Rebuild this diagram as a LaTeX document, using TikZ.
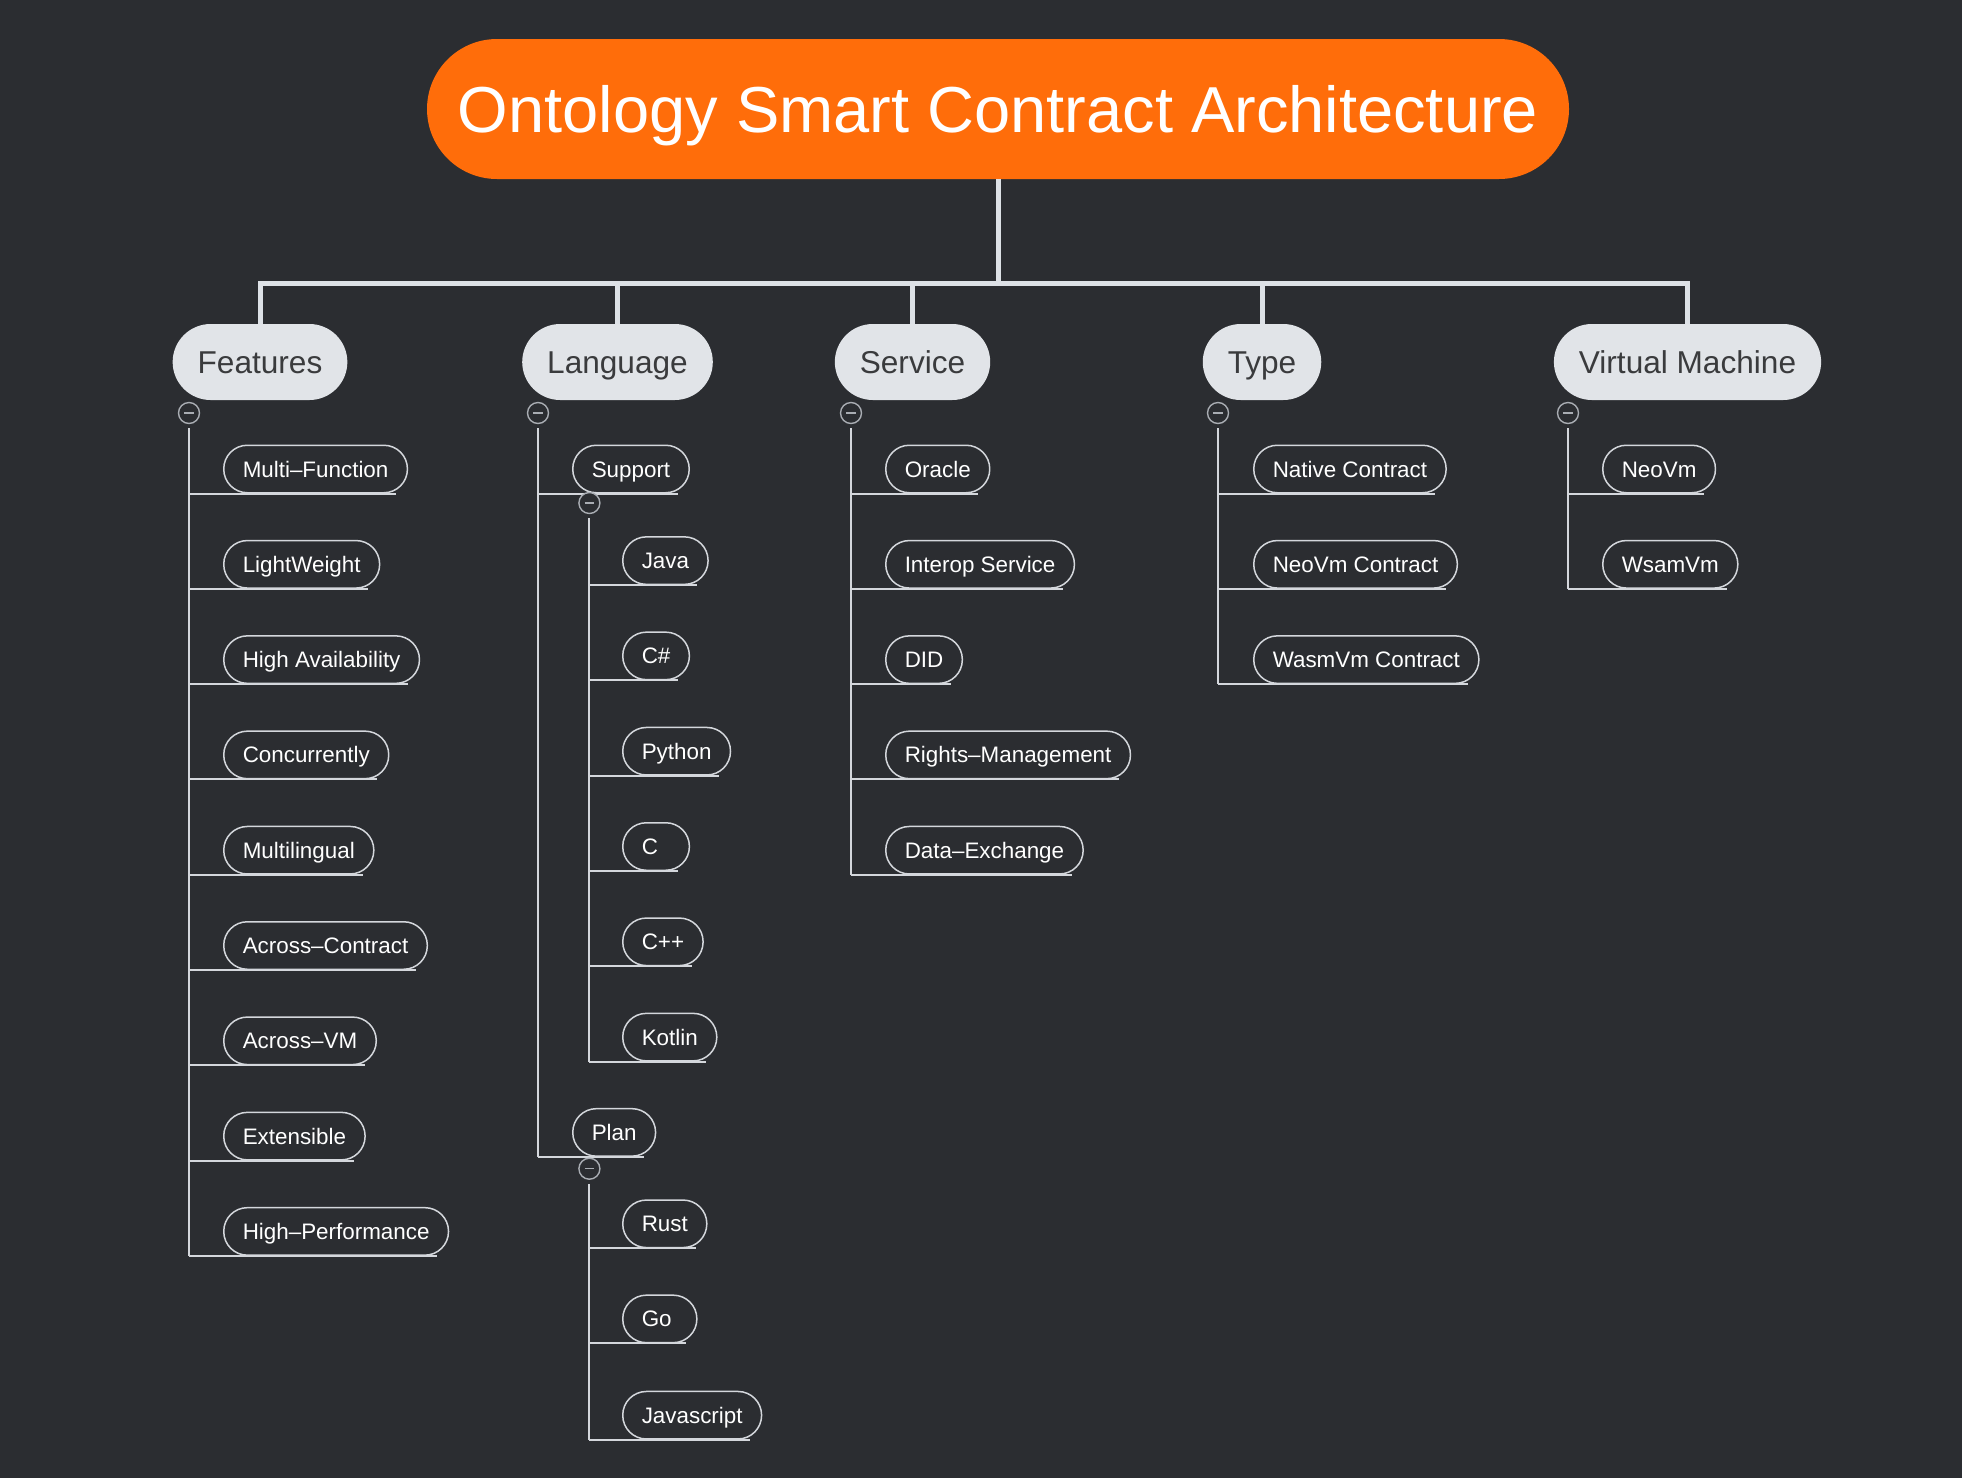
\documentclass[tikz,border=0pt]{standalone}
\usepackage{fontspec}
\setmainfont{Liberation Sans}
\definecolor{bg}{HTML}{2B2D31}
\definecolor{titleorange}{HTML}{FF6D0A}
\definecolor{catfill}{HTML}{E1E4E8}
\definecolor{cattext}{HTML}{3A3B3D}
\definecolor{trunkcol}{HTML}{DDE1E6}
\definecolor{leafline}{HTML}{D4D7DC}
\definecolor{togglecol}{HTML}{A9ADB3}
\tikzset{
  titlebox/.style={fill=titleorange, rounded corners=35pt, minimum width=571pt, minimum height=70pt,
    text=white, font=\fontsize{32.5}{36}\selectfont, inner sep=0pt, text height=23.3pt, text depth=0pt},
  catbox/.style={fill=catfill, rounded corners=19pt, minimum height=38pt, inner xsep=12.5pt, inner ysep=0pt,
    text=cattext, font=\fontsize{15.8}{18}\selectfont, text height=11.3pt, text depth=0pt},
  leafbox/.style={draw=leafline, line width=0.75pt, rounded corners=11.8pt, minimum height=23.75pt,
    inner xsep=9.5pt, inner ysep=0pt, text=white, anchor=west, font=\fontsize{11.2}{13}\selectfont,
    text height=8pt, text depth=0pt},
  trunk/.style={draw=trunkcol, line width=2.5pt},
  branch/.style={draw=leafline, line width=1pt},
  togglec/.style={circle, draw=togglecol, line width=0.7pt, fill=bg, minimum size=10.5pt, inner sep=0pt,
    path picture={\draw[togglecol, line width=0.7pt] ([xshift=-2.4pt]path picture bounding box.center) -- ([xshift=2.4pt]path picture bounding box.center);}},
}
\begin{document}
\begin{tikzpicture}[x=0.5pt,y=-0.5pt]
\fill[bg] (0,0) rectangle (1962,1478);
\useasboundingbox (0,0) rectangle (1962,1478);

% title
\node[titlebox] (title) at (998,109) {Ontology Smart Contract Architecture};

% categories
\node[catbox] (feat) at (260,362) {Features};
\node[catbox] (lang) at (617.5,362) {Language};
\node[catbox] (serv) at (912.5,362) {Service};
\node[catbox] (type) at (1262,362) {Type};
\node[catbox] (vm)   at (1687.5,362) {Virtual Machine};

\coordinate (bus) at (998,283);
\draw[trunk] (title.south) -- (bus);
\draw[trunk, line join=miter] (feat.north) |- (bus) -| (vm.north);
\draw[trunk] (lang.north) -- (lang.north |- bus);
\draw[trunk] (serv.north) -- (serv.north |- bus);
\draw[trunk] (type.north) -- (type.north |- bus);

% toggles
\node[togglec] (tfeat) at (189,413) {};
\node[togglec] (tlang) at (538,413) {};
\node[togglec] (tserv) at (851,413) {};
\node[togglec] (ttype) at (1218,413) {};
\node[togglec] (tvm)   at (1568,413) {};

% Features leaves
\node[leafbox] (f1) at (223,469.0) {Multi–Function};
\node[leafbox] (f2) at (223,564.3) {LightWeight};
\node[leafbox] (f3) at (223,659.6) {High Availability};
\node[leafbox] (f4) at (223,754.9) {Concurrently};
\node[leafbox] (f5) at (223,850.2) {Multilingual};
\node[leafbox] (f6) at (223,945.5) {Across–Contract};
\node[leafbox] (f7) at (223,1040.8) {Across–VM};
\node[leafbox] (f8) at (223,1136.1) {Extensible};
\node[leafbox] (f9) at (223,1231.4) {High–Performance};
\draw[branch] ([yshift=-2pt]tfeat.south) -- (tfeat.south |- f9.south);
\foreach \n in {f1,f2,f3,f4,f5,f6,f7,f8,f9}
  \draw[branch] (tfeat.south |- \n.south) -- ([xshift=-6pt]\n.south east);

% Language
\node[leafbox] (sup) at (572,469.0) {Support};
\node[leafbox] (plan) at (572,1132.4) {Plan};
\draw[branch] ([yshift=-2pt]tlang.south) -- (tlang.south |- plan.south);
\foreach \n in {sup,plan}
  \draw[branch] (tlang.south |- \n.south) -- ([xshift=-6pt]\n.south east);

\node[togglec] (tsup) at (589.4,503) {};
\node[leafbox] (s1) at (622,560.6) {Java};
\node[leafbox] (s2) at (622,655.9) {C\#};
\node[leafbox] (s3) at (622,751.2) {Python};
\node[leafbox] (s4) at (622,846.5) {C\phantom{\#}};
\node[leafbox] (s5) at (622,941.8) {C++};
\node[leafbox] (s6) at (622,1037.1) {Kotlin};
\draw[branch] ([yshift=-2pt]tsup.south) -- (tsup.south |- s6.south);
\foreach \n in {s1,s2,s3,s4,s5,s6}
  \draw[branch] (tsup.south |- \n.south) -- ([xshift=-6pt]\n.south east);

\node[togglec] (tplan) at (589.4,1168.7) {};
\node[leafbox] (p1) at (622,1223.8) {Rust};
\node[leafbox] (p2) at (622,1318.9) {Go\phantom{.}};
\node[leafbox] (p3) at (622,1415.2) {Javascript};
\draw[branch] ([yshift=-2pt]tplan.south) -- (tplan.south |- p3.south);
\foreach \n in {p1,p2,p3}
  \draw[branch] (tplan.south |- \n.south) -- ([xshift=-6pt]\n.south east);

% Service
\node[leafbox] (v1) at (885,469.0) {Oracle};
\node[leafbox] (v2) at (885,564.3) {Interop Service};
\node[leafbox] (v3) at (885,659.6) {DID};
\node[leafbox] (v4) at (885,754.9) {Rights–Management};
\node[leafbox] (v5) at (885,850.2) {Data–Exchange};
\draw[branch] ([yshift=-2pt]tserv.south) -- (tserv.south |- v5.south);
\foreach \n in {v1,v2,v3,v4,v5}
  \draw[branch] (tserv.south |- \n.south) -- ([xshift=-6pt]\n.south east);

% Type
\node[leafbox] (y1) at (1253,469.0) {Native Contract};
\node[leafbox] (y2) at (1253,564.3) {NeoVm Contract};
\node[leafbox] (y3) at (1253,659.6) {WasmVm Contract};
\draw[branch] ([yshift=-2pt]ttype.south) -- (ttype.south |- y3.south);
\foreach \n in {y1,y2,y3}
  \draw[branch] (ttype.south |- \n.south) -- ([xshift=-6pt]\n.south east);

% Virtual Machine
\node[leafbox] (m1) at (1602,469.0) {NeoVm};
\node[leafbox] (m2) at (1602,564.3) {WsamVm};
\draw[branch] ([yshift=-2pt]tvm.south) -- (tvm.south |- m2.south);
\foreach \n in {m1,m2}
  \draw[branch] (tvm.south |- \n.south) -- ([xshift=-6pt]\n.south east);
\end{tikzpicture}
\end{document}
